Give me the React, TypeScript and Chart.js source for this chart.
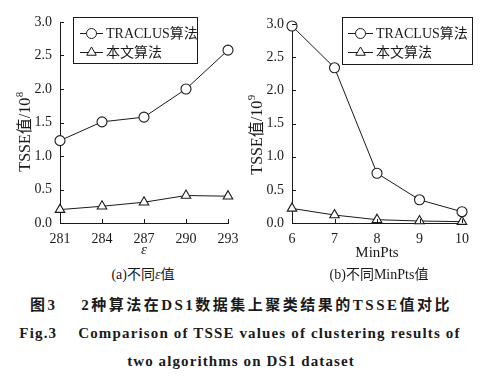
import React, { useEffect, useRef } from "react";
import { Chart, registerables } from "chart.js";

Chart.register(...registerables);

// ---------- data ----------
const epsCategories = ["281", "284", "287", "290", "293"];
const epsTraclus = [1.23, 1.51, 1.58, 2.0, 2.58];
const epsOurs = [0.2, 0.25, 0.31, 0.41, 0.4];

const minPtsCategories = ["6", "7", "8", "9", "10"];
const minPtsTraclus = [2.97, 2.34, 0.75, 0.35, 0.17];
const minPtsOurs = [0.22, 0.12, 0.05, 0.03, 0.02];

const yTickValues = [0, 0.5, 1.0, 1.5, 2.0, 2.5, 3.0];
const seriesNames = ["TRACLUS算法", "本文算法"];

const leftYTitle = "TSSE值/10";
const leftYExp = "8";
const rightYTitle = "TSSE值/10";
const rightYExp = "9";
const leftXTitle = "ε";
const rightXTitle = "MinPts";

const captionA = ["(a)不同", "ε", "值"];
const captionB = "(b)不同MinPts值";
const captionCn = "图3\u3000 2种算法在DS1数据集上聚类结果的TSSE值对比";
const captionEn1 = "Fig.3\u2003 Comparison of TSSE values of clustering results of";
const captionEn2 = "two algorithms on DS1 dataset";

// ---------- styles ----------
const SERIF = "'Liberation Serif', 'Times New Roman', 'Noto Sans CJK SC', serif";
const INK = "#1a1a1a";

type Panel = {
  categories: string[];
  traclus: number[];
  ours: number[];
  yTitle: string;
  yExp: string;
  xTitle: string;
  xTitleItalic: boolean;
  canvasLeft: number;
  width: number;
  height: number;
  padTop: number;
  padRight: number;
  yAxisWidth: number;
  xAxisHeight: number;
  yTitleX: number;
  yTitleY: number;
  xTitleY: number;
  legend: { x0: number; y0: number; x1: number; y1: number; lineX0: number; lineX1: number; textX: number; row1: number; row2: number };
};

const panels: Panel[] = [
  {
    categories: epsCategories,
    traclus: epsTraclus,
    ours: epsOurs,
    yTitle: leftYTitle,
    yExp: leftYExp,
    xTitle: leftXTitle,
    xTitleItalic: true,
    canvasLeft: 0,
    width: 251,
    height: 262,
    padTop: 22,
    padRight: 23,
    yAxisWidth: 60,
    xAxisHeight: 39,
    yTitleX: 26,
    yTitleY: 132,
    xTitleY: 250,
    legend: { x0: 73, y0: 17, x1: 197, y1: 63, lineX0: 80, lineX1: 103, textX: 106, row1: 33, row2: 52 },
  },
  {
    categories: minPtsCategories,
    traclus: minPtsTraclus,
    ours: minPtsOurs,
    yTitle: rightYTitle,
    yExp: rightYExp,
    xTitle: rightXTitle,
    xTitleItalic: false,
    canvasLeft: 240,
    width: 262,
    height: 262,
    padTop: 24,
    padRight: 40,
    yAxisWidth: 52,
    xAxisHeight: 39,
    yTitleX: 18,
    yTitleY: 135,
    xTitleY: 253,
    legend: { x0: 102, y0: 17, x1: 232, y1: 64, lineX0: 108, lineX1: 133, textX: 136, row1: 33, row2: 52 },
  },
];

function drawMarker(ctx: CanvasRenderingContext2D, style: string, x: number, y: number, r: number) {
  ctx.beginPath();
  if (style === "circle") {
    ctx.arc(x, y, r, 0, Math.PI * 2);
  } else {
    for (let i = 0; i < 3; i++) {
      const a = -Math.PI / 2 + (i * 2 * Math.PI) / 3;
      const px = x + Math.cos(a) * r;
      const py = y + Math.sin(a) * r;
      if (i === 0) ctx.moveTo(px, py);
      else ctx.lineTo(px, py);
    }
    ctx.closePath();
  }
  ctx.fillStyle = "#fff";
  ctx.fill();
  ctx.stroke();
}

function makeDecorPlugin(p: Panel) {
  return {
    id: "decor",
    afterDraw(chart: any) {
      const ctx: CanvasRenderingContext2D = chart.ctx;
      const { left, bottom } = chart.chartArea;
      const xs = chart.scales.x;
      const ys = chart.scales.y;
      ctx.save();
      ctx.strokeStyle = INK;
      ctx.lineWidth = 1;
      // inward ticks
      ctx.beginPath();
      ys.ticks.forEach((t: any) => {
        const y = Math.round(ys.getPixelForValue(t.value)) + 0.5;
        ctx.moveTo(left, y);
        ctx.lineTo(left + 4, y);
      });
      p.categories.forEach((_c, i) => {
        const x = Math.round(xs.getPixelForValue(i)) + 0.5;
        ctx.moveTo(x, bottom);
        ctx.lineTo(x, bottom - 4);
      });
      ctx.stroke();

      // y title
      ctx.fillStyle = INK;
      ctx.save();
      ctx.translate(p.yTitleX, p.yTitleY);
      ctx.rotate(-Math.PI / 2);
      ctx.font = `16px ${SERIF}`;
      const w1 = ctx.measureText(p.yTitle).width;
      ctx.font = `11px ${SERIF}`;
      const w2 = ctx.measureText(p.yExp).width;
      const start = -(w1 + w2) / 2;
      ctx.textBaseline = "middle";
      ctx.textAlign = "left";
      ctx.font = `16px ${SERIF}`;
      ctx.fillText(p.yTitle, start, 0);
      ctx.font = `11px ${SERIF}`;
      ctx.fillText(p.yExp, start + w1 + 0.5, -5.5);
      ctx.restore();

      // x title
      ctx.font = `${p.xTitleItalic ? "italic " : ""}15px ${SERIF}`;
      ctx.textAlign = "center";
      ctx.textBaseline = "middle";
      ctx.fillText(p.xTitle, (chart.chartArea.left + chart.chartArea.right) / 2, p.xTitleY);

      // legend
      const L = p.legend;
      ctx.lineWidth = 1;
      ctx.strokeRect(L.x0 + 0.5, L.y0 + 0.5, L.x1 - L.x0, L.y1 - L.y0);
      const rows = [
        { y: L.row1, style: "circle", r: 5, label: seriesNames[0] },
        { y: L.row2, style: "triangle", r: 5.5, label: seriesNames[1] },
      ];
      rows.forEach((row) => {
        ctx.beginPath();
        ctx.moveTo(L.lineX0, row.y + 0.5);
        ctx.lineTo(L.lineX1, row.y + 0.5);
        ctx.stroke();
        drawMarker(ctx, row.style, (L.lineX0 + L.lineX1) / 2, row.y + 0.5, row.r);
        ctx.fillStyle = INK;
        ctx.font = `14px ${SERIF}`;
        ctx.textAlign = "left";
        ctx.textBaseline = "middle";
        ctx.fillText(row.label, L.textX, row.y + 1);
      });
      ctx.restore();
    },
  };
}

function makeConfig(p: Panel): any {
  const common = {
    borderColor: INK,
    borderWidth: 1,
    pointBackgroundColor: "#fff",
    pointBorderColor: INK,
    pointBorderWidth: 1.1,
    tension: 0,
    clip: false,
    fill: false,
  };
  return {
    type: "line",
    data: {
      labels: p.categories,
      datasets: [
        { ...common, label: seriesNames[0], data: p.traclus, pointStyle: "circle", pointRadius: 5 },
        { ...common, label: seriesNames[1], data: p.ours, pointStyle: "triangle", pointRadius: 5.5 },
      ],
    },
    options: {
      responsive: false,
      maintainAspectRatio: false,
      animation: false,
      devicePixelRatio: 1,
      layout: { padding: { left: 0, top: p.padTop, right: p.padRight, bottom: 0 } },
      plugins: { legend: { display: false }, tooltip: { enabled: false }, title: { display: false } },
      scales: {
        x: {
          type: "category",
          offset: false,
          grid: { display: false, drawTicks: false },
          border: { display: true, color: INK, width: 1 },
          ticks: {
            color: INK,
            font: { family: SERIF, size: 14 },
            padding: 8,
            maxRotation: 0,
            autoSkip: false,
          },
          afterFit: (s: any) => {
            s.height = p.xAxisHeight;
          },
        },
        y: {
          type: "linear",
          min: 0,
          max: 3,
          grid: { display: false, drawTicks: false },
          border: { display: true, color: INK, width: 1 },
          afterBuildTicks: (s: any) => {
            s.ticks = yTickValues.map((v) => ({ value: v }));
          },
          ticks: {
            color: INK,
            font: { family: SERIF, size: 14 },
            padding: 8,
            callback: (v: any) => Number(v).toFixed(1),
          },
          afterFit: (s: any) => {
            s.width = p.yAxisWidth;
          },
        },
      },
    },
    plugins: [makeDecorPlugin(p)],
  };
}

function PanelChart({ p }: { p: Panel }) {
  const ref = useRef<HTMLCanvasElement | null>(null);
  useEffect(() => {
    if (!ref.current) return;
    const chart = new Chart(ref.current, makeConfig(p));
    return () => chart.destroy();
  }, [p]);
  return (
    <canvas
      ref={ref}
      width={p.width}
      height={p.height}
      style={{ position: "absolute", left: p.canvasLeft, top: 0, width: p.width, height: p.height }}
    />
  );
}

const capBase: React.CSSProperties = {
  position: "absolute",
  textAlign: "center",
  whiteSpace: "pre",
  color: INK,
  fontFamily: SERIF,
};

export default function App() {
  return (
    <div
      style={{
        position: "absolute",
        left: 0,
        top: 0,
        width: 502,
        height: 379,
        background: "#fff",
        overflow: "hidden",
      }}
    >
      <PanelChart p={panels[0]} />
      <PanelChart p={panels[1]} />
      <div style={{ ...capBase, left: 43, width: 200, top: 266, fontSize: 14, lineHeight: "18px" }}>
        {captionA[0]}
        <i>{captionA[1]}</i>
        {captionA[2]}
      </div>
      <div style={{ ...capBase, left: 279, width: 200, top: 266, fontSize: 14, lineHeight: "18px" }}>
        {captionB}
      </div>
      <div
        style={{
          ...capBase,
          left: 0,
          width: 482,
          top: 295,
          fontSize: 15,
          lineHeight: "20px",
          fontWeight: "bold",
          letterSpacing: "2.5px",
        }}
      >
        {captionCn}
      </div>
      <div
        style={{
          ...capBase,
          left: 0,
          width: 480,
          top: 323,
          fontSize: 15,
          lineHeight: "20px",
          fontWeight: "bold",
          letterSpacing: "1.15px",
        }}
      >
        {captionEn1}
      </div>
      <div
        style={{
          ...capBase,
          left: 0,
          width: 482,
          top: 351,
          fontSize: 15,
          lineHeight: "20px",
          fontWeight: "bold",
          letterSpacing: "1.1px",
        }}
      >
        {captionEn2}
      </div>
    </div>
  );
}
